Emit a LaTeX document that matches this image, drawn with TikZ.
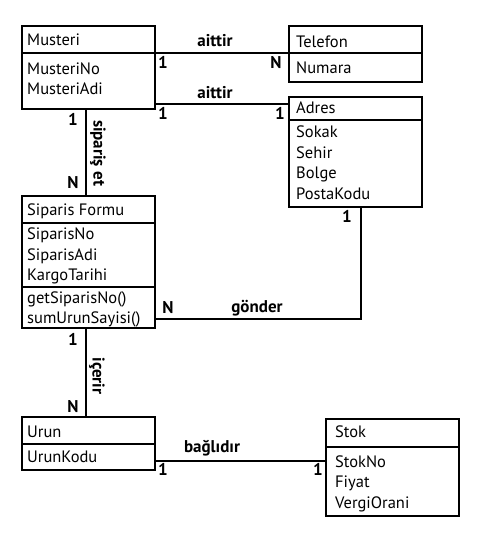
\documentclass[tikz,border=0pt]{standalone}
\usepackage{fontspec}
\setmainfont{PT Sans}
\usetikzlibrary{calc}
\begin{document}
\begin{tikzpicture}[x=1pt,y=-1pt,
  box/.style={draw, line width=2.2pt, rectangle, anchor=north west, outer sep=0pt, inner sep=0pt},
  sepline/.style={line width=2.2pt},
  conn/.style={line width=2.2pt},
  txt/.style={anchor=west, inner sep=0pt, text height=11pt, text depth=0pt, font=\fontsize{16.5}{19}\selectfont},
  lbl/.style={anchor=center, inner sep=0pt, text height=11pt, text depth=0pt, font=\fontsize{17}{19}\selectfont\bfseries}]
\useasboundingbox (0,0) rectangle (476,534);
% boxes
\node[box, minimum width=133pt, minimum height=83pt] (mus) at (22,26) {};
\node[box, minimum width=133pt, minimum height=56pt] (tel) at (289,26) {};
\node[box, minimum width=133pt, minimum height=110pt] (adr) at (289,97) {};
\node[box, minimum width=133pt, minimum height=132pt] (sip) at (22,196) {};
\node[box, minimum width=133pt, minimum height=53pt] (urun) at (22,417) {};
\node[box, minimum width=133pt, minimum height=97pt] (stok) at (326,419) {};
% separators
\draw[sepline] (mus.west |- 0,53) -- (mus.east |- 0,53);
\draw[sepline] (tel.west |- 0,53) -- (tel.east |- 0,53);
\draw[sepline] (adr.west |- 0,120) -- (adr.east |- 0,120);
\draw[sepline] (sip.west |- 0,223) -- (sip.east |- 0,223);
\draw[sepline] (sip.west |- 0,287) -- (sip.east |- 0,287);
\draw[sepline] (urun.west |- 0,444) -- (urun.east |- 0,444);
\draw[sepline] (stok.west |- 0,447) -- (stok.east |- 0,447);
% texts
\node[txt] (t1) at (27,40) {Musteri};
\node[txt] (t2) at (27,69) {MusteriNo};
\node[txt] (t3) at (27,89) {MusteriAdi};
\node[txt] (t4) at (296,42) {Telefon};
\node[txt] (t5) at (296,68) {Numara};
\node[txt] (t6) at (296,108) {Adres};
\node[txt] (t7) at (296,132) {Sokak};
\node[txt] (t8) at (296,153) {Sehir};
\node[txt] (t9) at (296,173) {Bolge};
\node[txt] (t10) at (296,194) {PostaKodu};
\node[txt] (t11) at (27,210) {Siparis Formu};
\node[txt] (t12) at (27,234) {SiparisNo};
\node[txt] (t13) at (27,255) {SiparisAdi};
\node[txt] (t14) at (27,275) {KargoTarihi};
\node[txt] (t15) at (27,298) {getSiparisNo()};
\node[txt] (t16) at (27,318) {sumUrunSayisi()};
\node[txt] (t17) at (27,432) {Urun};
\node[txt] (t18) at (27,457) {UrunKodu};
\node[txt] (t19) at (335,432) {Stok};
\node[txt] (t20) at (335,462) {StokNo};
\node[txt] (t21) at (335,482) {Fiyat};
\node[txt] (t22) at (335,503) {VergiOrani};
% connectors
\draw[conn] ($(mus.north east)+(0,27)$) -- ($(tel.north west)+(0,27)$);
\draw[conn] ($(mus.south east)+(0,-5)$) -- ($(adr.north west)+(0,7)$);
\draw[conn] ($(mus.south)+(-2.5,0)$) -- ($(sip.north)+(-2.5,0)$);
\draw[conn] ($(sip.south east)+(0,-9)$) -| ($(adr.south west)+(72,0)$);
\draw[conn] ($(sip.south)+(-2.5,0)$) -- ($(urun.north)+(-2.5,0)$);
\draw[conn] ($(urun.south east)+(0,-9)$) -- ($(stok.south west)+(0,-55)$);
% labels
\node[lbl] (l1) at (215,41) {aittir};
\node[lbl] (l2) at (163,63) {1};
\node[lbl] (l3) at (276,63) {N};
\node[lbl] (l4) at (215,93) {aittir};
\node[lbl] (l5) at (163,114) {1};
\node[lbl] (l6) at (280,114) {1};
\node[lbl] (l7) at (73,120) {1};
\node[lbl] (l8) at (73,183) {N};
\node[lbl, rotate=-90] (l9) at (99,153) {sipariş et};
\node[lbl] (l10) at (347,217) {1};
\node[lbl] (l11) at (168,308) {N};
\node[lbl] (l12) at (257,307) {gönder};
\node[lbl] (l13) at (73,340) {1};
\node[lbl] (l14) at (73,407) {N};
\node[lbl, rotate=-90] (l15) at (98,376) {içerir};
\node[lbl] (l16) at (212,447) {bağlıdır};
\node[lbl] (l17) at (163,470) {1};
\node[lbl] (l18) at (318,470) {1};
\end{tikzpicture}
\end{document}
